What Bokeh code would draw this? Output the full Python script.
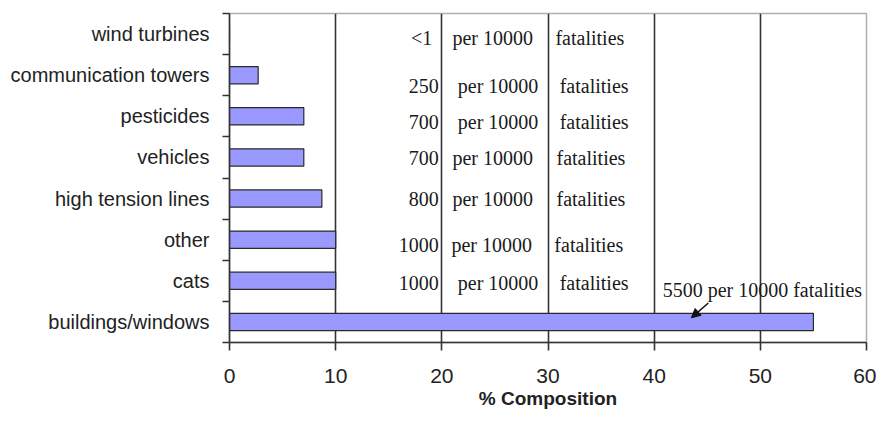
from bokeh.plotting import figure
from bokeh.models import (ColumnDataSource, FixedTicker, Range1d, Arrow, NormalHead,
                          Label)
from bokeh.core.properties import value
from bokeh.embed import file_html
from bokeh.resources import INLINE

# ---- data (top row first) ----
categories = ["wind turbines", "communication towers", "pesticides", "vehicles",
              "high tension lines", "other", "cats", "buildings/windows"]
composition = [0, 2.7, 7, 7, 8.7, 10, 10, 55]
fatalities_per_10000 = ["<1", "250", "700", "700", "800", "1000", "1000", "5500"]
x_ticks = [0, 10, 20, 30, 40, 50, 60]

# ---- styling / layout helpers (not data) ----
label_dy = [4, 11, 6, 1, 0, 5, 2]          # pixel shifts of the in-plot annotation rows
per_x = [21.0, 21.5, 21.5, 21.0, 21.0, 20.9, 21.5]
fat_x = [30.7, 31.1, 31.1, 30.8, 30.8, 30.6, 31.1]

n = len(categories)
ypos = [n - i - 0.5 for i in range(n)]

src = ColumnDataSource(dict(y=ypos, x=composition, cat=categories))

p = figure(width=876, height=414, output_backend="svg", toolbar_location=None,
           x_range=Range1d(0, 60), y_range=Range1d(0, n),
           min_border_left=229, min_border_right=10, min_border_top=13,
           min_border_bottom=72)
p.background_fill_color = "white"
p.border_fill_color = "white"
p.outline_line_color = "#b0b0b0"
p.outline_line_width = 1.5

p.hbar(y="y", right="x", left=0, height=0.42, source=src,
       fill_color="#9999ff", line_color="#2a2a2a", line_width=1.2)

# grid
p.ygrid.grid_line_color = None
p.xgrid.ticker = FixedTicker(ticks=x_ticks[1:-1])
p.xgrid.grid_line_color = "#333333"
p.xgrid.grid_line_width = 1.6

# x axis
xa = p.xaxis[0]
xa.ticker = FixedTicker(ticks=x_ticks, minor_ticks=[])
xa.axis_line_color = "#333333"
xa.axis_line_width = 1.6
xa.major_tick_line_color = "#333333"
xa.major_tick_line_width = 1.6
xa.major_tick_out = 8
xa.major_tick_in = 0
xa.major_label_text_font = "Liberation Sans"
xa.major_label_text_font_size = "21px"
xa.major_label_text_color = "#222222"
xa.major_label_standoff = 18
xa.axis_label = "% Composition"
xa.axis_label_text_font = "Liberation Sans"
xa.axis_label_text_font_style = "bold"
xa.axis_label_text_font_size = "19px"
xa.axis_label_text_color = "#222222"
xa.axis_label_standoff = 2

# y axis
ya = p.yaxis[0]
ya.ticker = FixedTicker(ticks=ypos, minor_ticks=list(range(n + 1)))
ya.major_label_overrides = {y: c for y, c in zip(ypos, categories)}
ya.axis_line_color = "#333333"
ya.axis_line_width = 1.6
ya.major_tick_line_color = None
ya.major_tick_out = 0
ya.major_tick_in = 0
ya.minor_tick_line_color = "#333333"
ya.minor_tick_line_width = 1.6
ya.minor_tick_out = 7
ya.minor_tick_in = 0
ya.major_label_text_font = "Liberation Sans"
ya.major_label_text_font_size = "20px"
ya.major_label_text_color = "#222222"
ya.major_label_standoff = 13

# in-plot annotations for the first seven rows
serif = value("Liberation Serif")
rows = list(range(n - 1))
num_x = [19.1 if fatalities_per_10000[i] == "<1" else 19.7 for i in rows]
ann = ColumnDataSource(dict(
    y=[ypos[i] for i in rows],
    num=[fatalities_per_10000[i] for i in rows],
    numx=num_x,
    perx=per_x,
    fatx=fat_x,
    dy=label_dy,
))
common = dict(source=ann, text_font=serif, text_font_size="20px",
              text_color="#1a1a1a", text_baseline="middle")
p.text(x="numx", y="y", text="num", text_align="right", y_offset="dy", **common)
p.text(x="perx", y="y", text=value("per 10000"), text_align="left", y_offset="dy", **common)
p.text(x="fatx", y="y", text=value("fatalities"), text_align="left", y_offset="dy", **common)

# annotation for the longest bar
last = n - 1
p.add_layout(Label(x=40.8, y=ypos[last] + 0.77,
                   text=f"{fatalities_per_10000[last]} per 10000 fatalities",
                   text_font="Liberation Serif", text_font_size="20px",
                   text_color="#1a1a1a", text_baseline="middle", text_align="left"))
p.add_layout(Arrow(end=NormalHead(size=9, fill_color="#111111", line_color="#111111"),
                   x_start=45.1, y_start=ypos[last] + 0.46,
                   x_end=43.5, y_end=ypos[last] + 0.1,
                   line_color="#111111", line_width=1.5))

open("out.html", "w").write(file_html(p, INLINE))
